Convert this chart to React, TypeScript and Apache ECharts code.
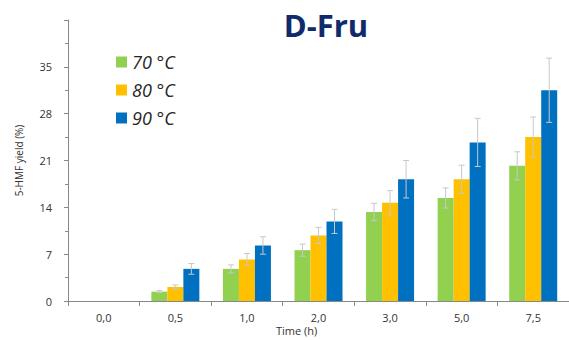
import React, { useEffect, useRef } from "react";
import * as echarts from "echarts";

const categories = ["0,0", "0,5", "1,0", "2,0", "3,0", "5,0", "7,5"];
const seriesNames = ["70 °C", "80 °C", "90 °C"];
const yield70 = [0, 1.4, 4.8, 7.6, 13.3, 15.4, 20.2];
const yield80 = [0, 2.1, 6.2, 9.8, 14.7, 18.2, 24.5];
const yield90 = [0, 4.8, 8.3, 11.9, 18.2, 23.7, 31.5];
const err70 = [0, 0.15, 0.6, 0.9, 1.3, 1.5, 2.1];
const err80 = [0, 0.3, 0.9, 1.2, 1.8, 2.1, 3.0];
const err90 = [0, 0.8, 1.3, 1.8, 2.8, 3.6, 4.8];
const yTicks = [0, 7, 14, 21, 28, 35, 42];

const colors = ["#92d050", "#ffc000", "#0070c0"];
const BAR_W = 16;

export default function App() {
  const ref = useRef<HTMLDivElement>(null);
  useEffect(() => {
    if (!ref.current) return;
    const chart = echarts.init(ref.current, null, { renderer: "svg" });
    const values = [yield70, yield80, yield90];
    const errs = [err70, err80, err90];
    const errSeries = values.map((vals, si) => ({
      type: "custom",
      name: "err" + si,
      data: vals.map((v, i) => [i, v, errs[si][i]]),
      z: 5,
      renderItem: (params: any, api: any) => {
        const i = api.value(0);
        const v = api.value(1);
        const e = api.value(2);
        if (!e) return null;
        const off = (si - 1) * BAR_W;
        const top = api.coord([i, v + e]);
        const bot = api.coord([i, v - e]);
        const x = top[0] + off;
        const cap = 3;
        const style = { stroke: "#c8c8c8", lineWidth: 1 };
        return {
          type: "group",
          children: [
            { type: "line", shape: { x1: x, y1: top[1], x2: x, y2: bot[1] }, style },
            { type: "line", shape: { x1: x - cap, y1: top[1], x2: x + cap, y2: top[1] }, style },
            { type: "line", shape: { x1: x - cap, y1: bot[1], x2: x + cap, y2: bot[1] }, style },
          ],
        };
      },
    }));
    chart.setOption({
      animation: false,
      title: {
        text: "D-Fru",
        left: 321,
        top: 4,
        textAlign: "center",
        textStyle: { fontFamily: "Open Sans", fontWeight: "bold", fontSize: 31, color: "#102a6b" },
      },
      legend: {
        data: seriesNames,
        orient: "vertical",
        left: 111,
        top: 48,
        icon: "rect",
        itemWidth: 11,
        itemHeight: 11,
        itemGap: 10,
        textStyle: { fontFamily: "Open Sans", fontStyle: "italic", fontSize: 18, color: "#262626" },
      },
      graphic: [
        {
          type: "text",
          left: 276,
          top: 325,
          style: { text: "Time (h)", fontFamily: "Open Sans", fontSize: 11, fill: "#333" },
        },
      ],
      grid: { left: 68, top: 20, width: 504, height: 281 },
      xAxis: {
        type: "category",
        data: categories,
        axisLine: { lineStyle: { color: "#888" } },
        axisTick: { show: true, length: 5, lineStyle: { color: "#888" } },
        axisLabel: { fontFamily: "Open Sans", fontSize: 11, color: "#333", margin: 11 },
      },
      yAxis: {
        type: "value",
        min: 0,
        max: 42,
        interval: 7,
        name: "5-HMF yield (%)",
        nameLocation: "middle",
        nameGap: 44,
        nameTextStyle: { fontFamily: "Open Sans", fontSize: 10, color: "#333" },
        axisLine: { show: true, lineStyle: { color: "#888" } },
        axisTick: { show: true, length: 4, lineStyle: { color: "#888" } },
        minorTick: { show: true, splitNumber: 2, length: 3, lineStyle: { color: "#888" } },
        splitLine: { show: false },
        axisLabel: {
          fontFamily: "Open Sans",
          fontSize: 11,
          color: "#333",
          margin: 16,
          formatter: (v: number) => (v === yTicks[yTicks.length - 1] ? "" : String(v)),
        },
      },
      series: [
        ...values.map((vals, si) => ({
          type: "bar",
          name: seriesNames[si],
          data: vals,
          barWidth: BAR_W,
          barGap: "0%",
          itemStyle: { color: colors[si] },
        })),
        ...errSeries,
      ],
    });
    return () => chart.dispose();
  }, []);
  return <div ref={ref} style={{ width: 569, height: 340, position: "absolute", left: 0, top: 0 }} />;
}
